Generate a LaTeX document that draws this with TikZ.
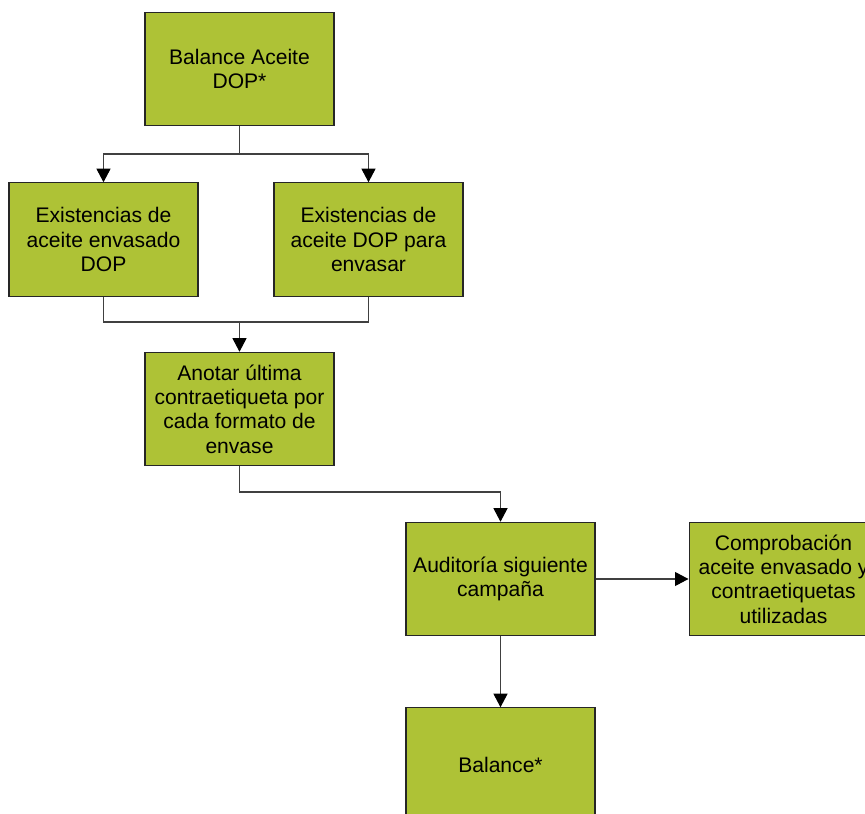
\documentclass[tikz,border=0pt]{standalone}
\usepackage{fontspec}
\setmainfont{Liberation Sans}
\usetikzlibrary{arrows.meta}
\definecolor{boxgreen}{RGB}{174,194,54}
\begin{document}
\begin{tikzpicture}[x=0.02cm,y=-0.02cm,
  paso/.style={draw=black!85, fill=boxgreen, line width=0.6pt,
    minimum width=3.78cm, minimum height=2.27cm, align=center,
    inner sep=0pt, font=\fontsize{12}{13.9}\selectfont},
  enlace/.style={draw=black!75, line width=0.6pt},
  flecha/.style={enlace, -{Triangle[width=0.28cm,length=0.27cm,fill=black,color=black]}}]
\useasboundingbox (0,0) rectangle (865,814);
\clip (0,0) rectangle (865,814);
% boxes of the diagram
	\node[paso] (balance) at (239.5,69) {Balance Aceite\\DOP*};
	\node[paso] (envasado) at (103.5,239.5) {Existencias de\\aceite envasado\\DOP};
	\node[paso] (paraenvasar) at (368.5,239.5) {Existencias de\\aceite DOP para\\envasar};
	\node[paso] (anotar) at (239.5,409) {Anotar última\\contraetiqueta por\\cada formato de\\envase};
	\node[paso] (auditoria) at (500.5,579) {Auditoría siguiente\\campaña};
	\node[paso] (comprobacion) at (783.5,579) {Comprobación\\aceite envasado y\\contraetiquetas\\utilizadas};
	\node[paso] (final) at (500.5,764.5) {Balance*};
% bend points
	\coordinate (reparto) at (239.5,154);
	\coordinate (union) at (239.5,322);
	\coordinate (giro) at (239.5,492);
% connectors
	\draw[enlace] (balance.south) -- (reparto);
	\draw[flecha] (reparto) -| (envasado.north);
	\draw[flecha] (reparto) -| (paraenvasar.north);
	\draw[enlace] (envasado.south) |- (union) -| (paraenvasar.south);
	\draw[flecha] (union) -- (anotar.north);
	\draw[flecha] (anotar.south) -- (giro) -| (auditoria.north);
	\draw[flecha] (auditoria.east) -- (comprobacion.west);
	\draw[flecha] (auditoria.south) -- (final.north);
\end{tikzpicture}
\end{document}
